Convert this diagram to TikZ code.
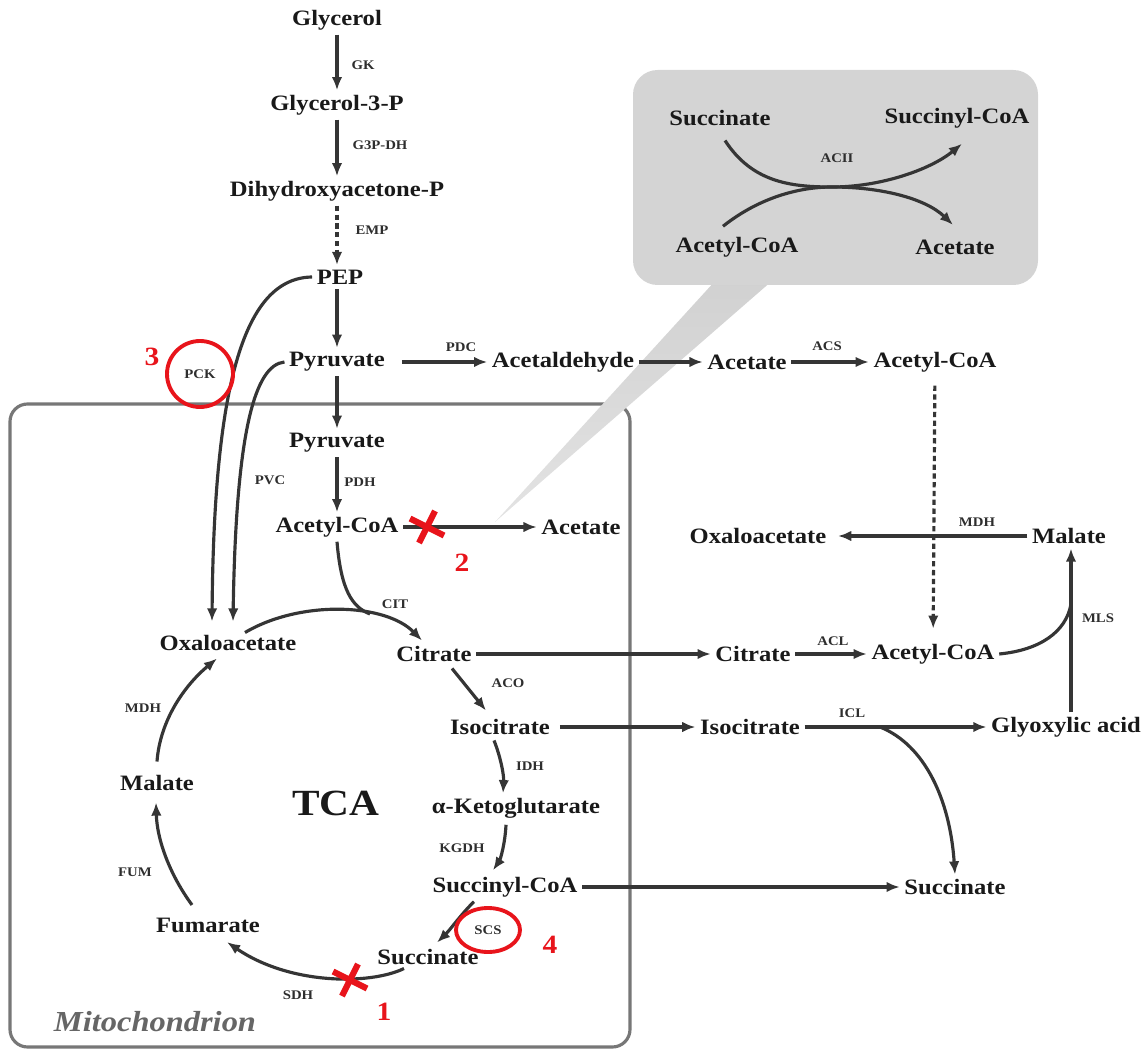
\documentclass[tikz,border=0pt]{standalone}
\usepackage{fontspec}
\setmainfont{Liberation Serif}[FakeStretch=1.12]
\usetikzlibrary{arrows.meta}

\definecolor{linegray}{HTML}{353535}
\definecolor{boxgray}{HTML}{777777}
\definecolor{markred}{HTML}{E8141B}

\tikzset{
  met/.style={font=\fontsize{12.5}{14}\selectfont\bfseries, text=black!90, inner sep=2.5pt},
  enz/.style={font=\fontsize{7.5}{9}\selectfont\bfseries, text=black!82, inner sep=1pt},
  rxn/.style={draw=linegray, line width=1.8pt, -{Latex[length=7.5pt,width=6pt]}},
  plain/.style={draw=linegray, line width=1.8pt},
  dashrxn/.style={rxn, dash pattern=on 3pt off 2pt},
  hitmark/.style={draw=markred, line width=3.5pt},
  hitring/.style={draw=markred, line width=2.2pt},
  hitnum/.style={font=\fontsize{15}{18}\selectfont\bfseries, text=markred}
}

\begin{document}
\begin{tikzpicture}[x=0.02cm,y=-0.02cm]
\useasboundingbox (0,0) rectangle (1145,1050);

\draw[boxgray, line width=1.8pt, rounded corners=10pt] (10,404) rectangle (630,1047);
\shade[top color=black!18, bottom color=black!11] (716,280) -- (773,280) -- (495,522) -- cycle;
\fill[black!17, rounded corners=14pt] (633,70) rectangle (1038,285);

\node[met] (gly) at (337,20) {Glycerol};
\node[met] (g3p) at (337,105) {Glycerol-3-P};
\node[met] (dhap) at (337,191) {Dihydroxyacetone-P};
\node[met] (pep) at (340,277) {PEP};
\node[met] (pyrc) at (337,362) {Pyruvate};
\node[met] (acald) at (563,362) {Acetaldehyde};
\node[met] (acec) at (747,362) {Acetate};
\node[met] (accc) at (935,362) {Acetyl-CoA};
\node[met] (pyrm) at (337,443) {Pyruvate};
\node[met] (accm) at (337,527) {Acetyl-CoA};
\node[met] (acem) at (581,527) {Acetate};
\node[met] (oaa) at (228,643) {Oxaloacetate};
\node[met] (cit) at (434,654) {Citrate};
\node[met] (icit) at (500,727) {Isocitrate};
\node[met] (akg) at (516,808) {α-Ketoglutarate};
\node[met] (scoa) at (505,887) {Succinyl-CoA};
\node[met] (succ) at (428,957) {Succinate};
\node[met] (fum) at (208,925) {Fumarate};
\node[met] (mal) at (157,783) {Malate};
\node[met] (oaa2) at (758,536) {Oxaloacetate};
\node[met] (mal2) at (1069,536) {Malate};
\node[met] (cit2) at (753,654) {Citrate};
\node[met] (acc2) at (933,654) {Acetyl-CoA};
\node[met] (icit2) at (750,727) {Isocitrate};
\node[met] (glyox) at (1066,727) {Glyoxylic acid};
\node[met] (succ2) at (955,887) {Succinate};

\node[met] (bsucc) at (720,118) {Succinate};
\node[met] (bscoa) at (957,118) {Succinyl-CoA};
\node[met] (bacc) at (737,247) {Acetyl-CoA};
\node[met] (bace) at (955,247) {Acetate};

\node[font=\fontsize{21}{24}\selectfont\bfseries, text=black!90] (tca) at (336,803) {TCA};
\node[font=\fontsize{16.5}{19}\selectfont\bfseries\itshape, text=black!60] (mito) at (155,1022) {Mitochondrion};

\node[enz] (gk) at (363,65) {GK};
\node[enz] (g3pdh) at (380,145) {G3P-DH};
\node[enz] (emp) at (372,230) {EMP};
\node[enz] (pdc) at (461,347) {PDC};
\node[enz] (acs) at (827,346) {ACS};
\node[enz] (pdh) at (360,482) {PDH};
\node[enz] (pvc) at (270,480) {PVC};
\node[enz] (pck) at (200,374) {PCK};
\node[enz] (citenz) at (395,604) {CIT};
\node[enz] (aco) at (508,683) {ACO};
\node[enz] (idh) at (530,766) {IDH};
\node[enz] (kgdh) at (462,848) {KGDH};
\node[enz] (scs) at (488,930) {SCS};
\node[enz] (sdh) at (298,995) {SDH};
\node[enz] (fumenz) at (135,872) {FUM};
\node[enz] (mdh) at (143,708) {MDH};
\node[enz] (mdh2) at (977,522) {MDH};
\node[enz] (acl) at (833,641) {ACL};
\node[enz] (icl) at (852,713) {ICL};
\node[enz] (mls) at (1098,618) {MLS};
\node[enz] (acii) at (837,158) {ACII};

\coordinate (citjoin) at (370,614);
\coordinate (mlsjoin) at (1071,604);
\coordinate (icljoin) at (880,727);

\draw[rxn] (gly) -- (g3p);
\draw[rxn] (g3p) -- (dhap);
\draw[dashrxn] (dhap) -- (pep.north -| dhap);
\draw[rxn] (pep.south -| pyrc) -- (pyrc);
\draw[rxn] (pyrc) -- (pyrm);
\draw[rxn] (pyrm) -- (accm);
\draw[rxn, shorten <=7pt] (pyrc) -- (acald);
\draw[rxn] (acald) -- (acec);
\draw[rxn] (acec) -- (accc);
\draw[rxn] (accm) -- (acem);
\draw[dashrxn, shorten <=5pt, shorten >=6pt] (accc) -- (acc2);
\draw[rxn, shorten >=4pt] (mal2) -- (oaa2);
\draw[rxn] (glyox.north -| mlsjoin) -- (mal2.south -| mlsjoin);
\draw[plain] (acc2.east) .. controls (1040,650) and (1066,632) .. (mlsjoin);
\draw[rxn] (cit) -- (cit2);
\draw[rxn] (cit2) -- (acc2);
\draw[rxn, shorten <=3pt] (icit) -- (icit2);
\draw[rxn] (icit2) -- (glyox);
\draw[rxn] (icljoin) .. controls (925,745) and (950,800) .. (succ2.north);
\draw[rxn] (scoa) -- (succ2);

\draw[rxn] (pep.west) .. controls (245,278) and (214,380) .. ([shift={(-16,-9)}]oaa.north);
\draw[rxn] (pyrc.west) .. controls (255,365) and (236,430) .. ([shift={(5,-9)}]oaa.north);

\draw[rxn] ([shift={(17,2)}]oaa.north) .. controls (300,600) and (385,603) .. ([shift={(-12,-1)}]cit.north);
\draw[plain] (accm.south) .. controls (341,590) and (352,607) .. (citjoin);
\draw[rxn] ([shift={(18,2)}]cit.south) -- ([shift={(-14,-4)}]icit.north);
\draw[rxn] ([shift={(-6,1)}]icit.south) .. controls (501,758) and (504,776) .. ([shift={(-13,0)}]akg.north);
\draw[rxn] ([shift={(-10,2)}]akg.south) .. controls (505,845) and (500,860) .. ([shift={(-12,-2)}]scoa.north);
\draw[rxn] ([shift={(-31,0)}]scoa.south) .. controls (463,912) and (450,930) .. ([shift={(9,-2)}]succ.north);
\draw[rxn] ([shift={(-24,-1)}]succ.south) .. controls (370,985) and (290,985) .. ([shift={(19,5)}]fum.south);
\draw[rxn] ([shift={(-16,-8)}]fum.north) .. controls (170,875) and (157,840) .. ([shift={(-1,7)}]mal.south);
\draw[rxn] ([shift={(0,-9)}]mal.north) .. controls (160,720) and (185,685) .. ([shift={(-11,3)}]oaa.south);

\draw[rxn] ([shift={(5,10)}]bsucc.south) .. controls (752,182) and (790,187) .. (832,187)
  .. controls (880,187) and (930,170) .. ([shift={(5,11)}]bscoa.south);
\draw[rxn] ([shift={(-14,-6)}]bacc.north) .. controls (760,197) and (800,187) .. (832,187)
  .. controls (880,187) and (925,198) .. ([shift={(-2,-10)}]bace.north);

\draw[hitmark, shift={(427,527)}] (-17,-8.5) -- (17,8.5) (8,-16) -- (-8,16);
\draw[hitmark, shift={(350,980)}] (-17,-8.5) -- (17,8.5) (8,-16) -- (-8,16);
\draw[hitring] (pck) circle [radius=33];
\draw[hitring] (scs) ellipse [x radius=32, y radius=22];
\node[hitnum] (n1) at (384,1012) {1};
\node[hitnum] (n2) at (462,563) {2};
\node[hitnum] (n3) at (152,357) {3};
\node[hitnum] (n4) at (550,945) {4};
\end{tikzpicture}
\end{document}
